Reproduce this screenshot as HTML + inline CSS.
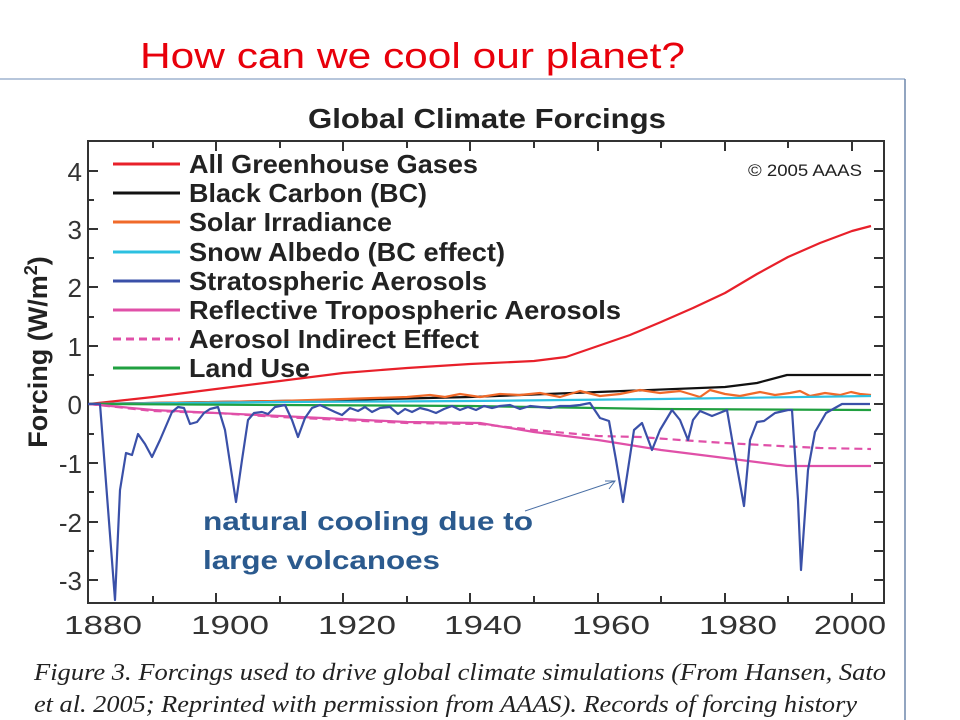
<!DOCTYPE html>
<html><head><meta charset="utf-8"><style>
body{margin:0;width:960px;height:720px;background:#fff;overflow:hidden;position:relative;font-family:"Liberation Sans",sans-serif}
</style></head><body>
<svg width="960" height="720" style="position:absolute;left:0;top:0">
<text x="140" y="68" font-size="36" fill="#e8000b" textLength="545" lengthAdjust="spacingAndGlyphs">How can we cool our planet?</text>
<line x1="0" y1="79" x2="905" y2="79" stroke="#9fb3cf" stroke-width="1.5"/>
<line x1="905" y1="79" x2="905" y2="720" stroke="#6f87ab" stroke-width="1.5"/>
<text x="308" y="128" font-size="28" font-weight="bold" fill="#222" textLength="358" lengthAdjust="spacingAndGlyphs">Global Climate Forcings</text>
<rect x="88" y="141" width="796" height="462" fill="none" stroke="#333" stroke-width="2"/>
<g stroke="#333" stroke-width="2">
<line x1="88" y1="171" x2="98" y2="171"/><line x1="88" y1="200" x2="94" y2="200"/>
<line x1="88" y1="229" x2="98" y2="229"/><line x1="88" y1="258" x2="94" y2="258"/>
<line x1="88" y1="287" x2="98" y2="287"/><line x1="88" y1="317" x2="94" y2="317"/>
<line x1="88" y1="346" x2="98" y2="346"/><line x1="88" y1="375" x2="94" y2="375"/>
<line x1="88" y1="404" x2="98" y2="404"/><line x1="88" y1="434" x2="94" y2="434"/>
<line x1="88" y1="463" x2="98" y2="463"/><line x1="88" y1="492" x2="94" y2="492"/>
<line x1="88" y1="522" x2="98" y2="522"/><line x1="88" y1="551" x2="94" y2="551"/>
<line x1="88" y1="580" x2="98" y2="580"/>
<line x1="884" y1="346" x2="874" y2="346"/><line x1="884" y1="375" x2="874" y2="375"/><line x1="884" y1="404" x2="874" y2="404"/><line x1="884" y1="434" x2="874" y2="434"/><line x1="884" y1="463" x2="874" y2="463"/><line x1="884" y1="492" x2="874" y2="492"/><line x1="884" y1="522" x2="874" y2="522"/><line x1="884" y1="551" x2="874" y2="551"/><line x1="884" y1="580" x2="874" y2="580"/><line x1="884" y1="200" x2="874" y2="200"/><line x1="884" y1="229" x2="874" y2="229"/><line x1="884" y1="258" x2="874" y2="258"/><line x1="884" y1="287" x2="874" y2="287"/><line x1="884" y1="317" x2="874" y2="317"/><line x1="884" y1="171" x2="874" y2="171"/>
</g>
<g stroke="#333" stroke-width="2">
<line x1="153" y1="603" x2="153" y2="596"/><line x1="216" y1="603" x2="216" y2="593"/><line x1="280" y1="603" x2="280" y2="596"/><line x1="343" y1="603" x2="343" y2="593"/><line x1="407" y1="603" x2="407" y2="596"/><line x1="470" y1="603" x2="470" y2="593"/><line x1="534" y1="603" x2="534" y2="596"/><line x1="598" y1="603" x2="598" y2="593"/><line x1="661" y1="603" x2="661" y2="596"/><line x1="725" y1="603" x2="725" y2="593"/><line x1="788" y1="603" x2="788" y2="596"/><line x1="852" y1="603" x2="852" y2="593"/>
<line x1="153" y1="141" x2="153" y2="148"/><line x1="216" y1="141" x2="216" y2="151"/><line x1="280" y1="141" x2="280" y2="148"/><line x1="343" y1="141" x2="343" y2="151"/><line x1="407" y1="141" x2="407" y2="148"/><line x1="470" y1="141" x2="470" y2="151"/><line x1="534" y1="141" x2="534" y2="148"/><line x1="598" y1="141" x2="598" y2="151"/><line x1="661" y1="141" x2="661" y2="148"/><line x1="725" y1="141" x2="725" y2="151"/><line x1="788" y1="141" x2="788" y2="148"/><line x1="852" y1="141" x2="852" y2="151"/>
</g>
<g font-size="26" fill="#333" text-anchor="end">
<text x="82" y="181">4</text><text x="82" y="239">3</text><text x="82" y="297">2</text><text x="82" y="356">1</text><text x="82" y="414">0</text><text x="82" y="473">-1</text><text x="82" y="532">-2</text><text x="82" y="590">-3</text>
</g>
<g font-size="26" fill="#333">
<text x="64" y="634" textLength="78" lengthAdjust="spacingAndGlyphs">1880</text>
<text x="191" y="634" textLength="78" lengthAdjust="spacingAndGlyphs">1900</text>
<text x="318" y="634" textLength="78" lengthAdjust="spacingAndGlyphs">1920</text>
<text x="444" y="634" textLength="78" lengthAdjust="spacingAndGlyphs">1940</text>
<text x="572" y="634" textLength="78" lengthAdjust="spacingAndGlyphs">1960</text>
<text x="699" y="634" textLength="78" lengthAdjust="spacingAndGlyphs">1980</text>
<text x="814" y="634" textLength="72" lengthAdjust="spacingAndGlyphs">2000</text>
</g>
<text transform="translate(47,352) rotate(-90)" font-size="27" font-weight="bold" fill="#222" text-anchor="middle">Forcing (W/m<tspan dy="-10" font-size="18">2</tspan><tspan dy="10">)</tspan></text>
<text x="748" y="176" font-size="17" fill="#222" textLength="114" lengthAdjust="spacingAndGlyphs">© 2005 AAAS</text>
<g stroke-width="3">
<line x1="113" y1="164" x2="180" y2="164" stroke="#e8202a"/>
<line x1="113" y1="193" x2="180" y2="193" stroke="#111"/>
<line x1="113" y1="222" x2="180" y2="222" stroke="#f06a2a"/>
<line x1="113" y1="252" x2="180" y2="252" stroke="#2cc0e0"/>
<line x1="113" y1="281" x2="180" y2="281" stroke="#3a50a8"/>
<line x1="113" y1="310" x2="180" y2="310" stroke="#e050a8"/>
<line x1="113" y1="339" x2="180" y2="339" stroke="#e050a8" stroke-dasharray="8,5"/>
<line x1="113" y1="368" x2="180" y2="368" stroke="#20a040"/>
</g>
<g font-size="26" font-weight="bold" fill="#222" lengthAdjust="spacingAndGlyphs">
<text x="189" y="173" textLength="289" lengthAdjust="spacingAndGlyphs">All Greenhouse Gases</text>
<text x="189" y="202" textLength="238" lengthAdjust="spacingAndGlyphs">Black Carbon (BC)</text>
<text x="189" y="231" textLength="203" lengthAdjust="spacingAndGlyphs">Solar Irradiance</text>
<text x="189" y="261" textLength="316" lengthAdjust="spacingAndGlyphs">Snow Albedo (BC effect)</text>
<text x="189" y="290" textLength="298" lengthAdjust="spacingAndGlyphs">Stratospheric Aerosols</text>
<text x="189" y="319" textLength="432" lengthAdjust="spacingAndGlyphs">Reflective Tropospheric Aerosols</text>
<text x="189" y="348" textLength="290" lengthAdjust="spacingAndGlyphs">Aerosol Indirect Effect</text>
<text x="189" y="377" textLength="121" lengthAdjust="spacingAndGlyphs">Land Use</text>
</g>
<g fill="none" stroke-width="2.2" stroke-linejoin="round">
<polyline stroke="#e8202a" points="89,404 153,397 216,389 280,381 343,373 407,368 470,364 534,361 566,357 598,346 630,335 661,322 693,308 725,293 757,274 788,257 820,243 852,231 871,226"/>
<polyline stroke="#111" points="89,404 216,402 343,400 470,397 598,392 725,387 757,383 787,375 871,375"/>
<polyline stroke="#f06a2a" points="89,404 153,403 216,402 280,401 343,399 407,397 430,395 445,397 460,394 480,397 500,394 520,395 540,393 560,397 580,391 600,396 620,394 640,390 660,393 680,391 700,397 710,390 725,394 740,396 760,392 775,395 790,393 800,391 810,396 825,393 840,395 851,392 860,394 871,395"/>
<polyline stroke="#2cc0e0" points="89,404 280,402 470,401 661,399 871,396"/>
<polyline stroke="#20a040" points="89,404 280,405 470,406 661,409 871,410"/>
<polyline stroke="#e050a8" points="89,404 153,410 216,413 280,416 343,419 407,422 480,423 534,432 598,440 661,450 725,458 787,466 820,466 871,466"/>
<polyline stroke="#e050a8" stroke-dasharray="8,5" points="89,404 153,411 216,413 280,417 343,420 407,423 480,424 534,430 598,436 640,437 680,440 725,443 780,446 820,448 871,449"/>
<polyline stroke="#3a50a8" points="88,404 100,404 115,600 120,490 126,453 132,455 138,434 145,444 152,457 160,440 172,412 178,407 184,408 190,424 197,422 204,413 210,409 218,407 225,430 230,463 236,502 242,460 248,420 254,413 262,412 268,414 275,407 285,405 292,420 298,437 305,418 312,408 320,405 335,412 342,415 350,408 358,411 365,407 372,412 380,408 390,407 398,414 405,409 412,412 420,408 428,410 436,413 444,409 452,406 460,410 468,407 476,410 484,406 492,408 500,406 510,405 520,409 530,406 540,407 550,408 560,406 570,406 580,405 590,403 600,418 609,421 616,460 623,502 634,430 642,423 652,450 660,430 672,410 680,420 688,440 693,420 700,411 712,416 727,410 733,445 744,506 750,440 757,422 764,421 775,413 788,410 792,410 798,500 801,570 808,470 815,432 826,413 842,404 870,404"/>
</g>
<line x1="525" y1="511" x2="615" y2="481" stroke="#4a6fa5" stroke-width="1"/>
<polyline points="605,481 615,481 609,489" fill="none" stroke="#4a6fa5" stroke-width="1"/>
<g font-size="26" font-weight="bold" fill="#2b5a8e">
<text x="203" y="530" textLength="330" lengthAdjust="spacingAndGlyphs">natural cooling due to</text>
<text x="203" y="569" textLength="237" lengthAdjust="spacingAndGlyphs">large volcanoes</text>
</g>
<g font-family="Liberation Serif" font-style="italic" font-size="24" fill="#222">
<text x="34" y="680" textLength="852" lengthAdjust="spacingAndGlyphs">Figure 3. Forcings used to drive global climate simulations (From Hansen, Sato</text>
<text x="34" y="712" textLength="823" lengthAdjust="spacingAndGlyphs">et al. 2005; Reprinted with permission from AAAS). Records of forcing history</text>
</g>
</svg>
</body></html>
